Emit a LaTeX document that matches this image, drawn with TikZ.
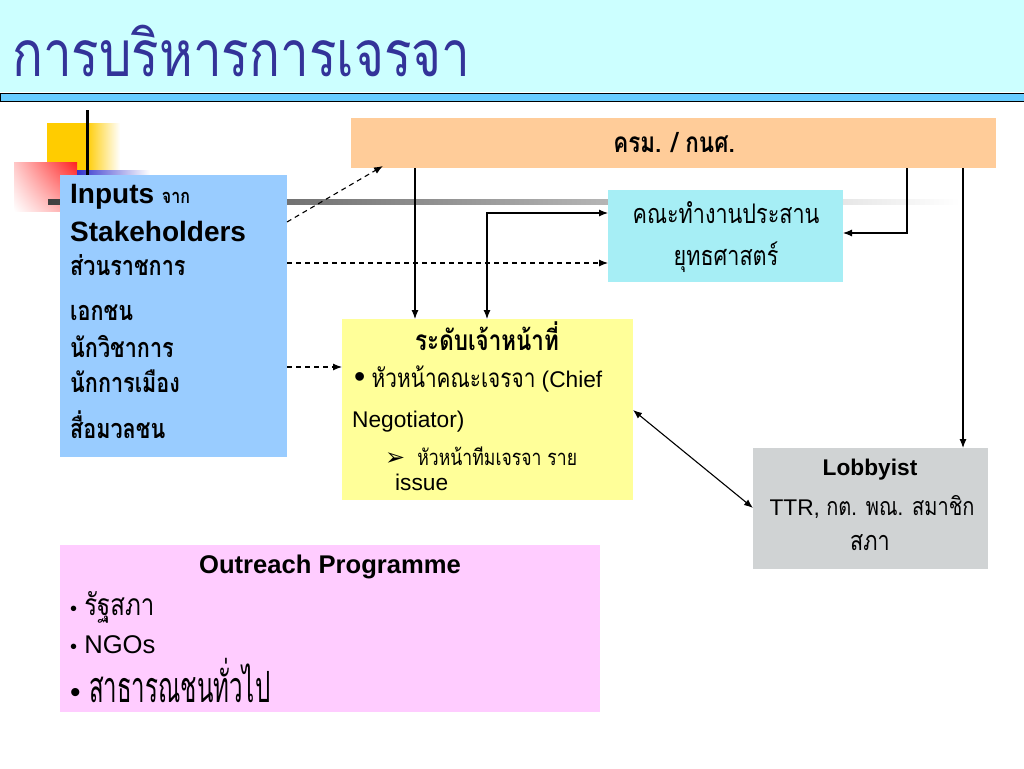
\documentclass[tikz,border=0pt]{standalone}
\usepackage{fontspec}
\setmainfont{Liberation Sans}
\newfontfamily\thaifont[Script=Thai,FakeStretch=0.8]{Loma}
\newfontfamily\thainarrow[Script=Thai,FakeStretch=0.56]{Loma}
\newfontfamily\symfont{DejaVu Sans}
\usetikzlibrary{arrows.meta,calc,shadings}

\definecolor{bandcyan}{HTML}{CCFFFF}
\definecolor{barblue}{HTML}{66CCFF}
\definecolor{titleblue}{HTML}{333399}
\definecolor{decoyellow}{HTML}{FFCC00}
\definecolor{decored}{HTML}{FF2020}
\definecolor{decoblue}{HTML}{3333CC}
\definecolor{krmorange}{HTML}{FFCC99}
\definecolor{stratcyan}{HTML}{A6EEF5}
\definecolor{inputblue}{HTML}{99CCFF}
\definecolor{officeyellow}{HTML}{FFFF99}
\definecolor{lobbygray}{HTML}{D0D3D4}
\definecolor{outreachpink}{HTML}{FFCCFF}

\newcommand{\fs}[1]{\fontsize{#1}{#1}\selectfont}
\newcommand{\thaitxt}[2]{{\thaifont\fs{#1}#2}}

\begin{document}
\begin{tikzpicture}[x=1pt,y=-1pt,
    box/.style={anchor=north west,inner sep=0pt,outer sep=0pt},
    txt/.style={anchor=base west,inner sep=0pt},
    mid/.style={anchor=base,inner sep=0pt},
    link/.style={-{Latex[length=9pt,width=7pt]},line width=1.1pt},
    dlink/.style={link,dash pattern=on 5pt off 4pt},
    twoway/.style={{Latex[length=9pt,width=7pt]}-{Latex[length=9pt,width=7pt]},line width=1.1pt}]
\useasboundingbox (0,0) rectangle (1024,768);
\fill[white] (0,0) rectangle (1024,768);
% title band
\fill[bandcyan] (0,0) rectangle (1024,92);
\draw[fill=barblue,line width=1pt] (0,93) rectangle (1024,101);
\node[txt,font=\thaifont\fs{64},text=titleblue] (title) at (12,77) {การบริหารการเจรจา};
% template corner
\fill[decoyellow] (47,123) rectangle (86,176);
\shade[left color=decoyellow,right color=white] (86,123) rectangle (120,176);
\shade[upper right=decored,upper left=decored!25,lower right=decored!45,lower left=white] (14,162) rectangle (77,211);
\shade[left color=decoblue,right color=white] (77,170) rectangle (150,176);
\draw[line width=3pt] (87,110) -- (87,176);
\shade[left color=black!75,right color=white] (48,199) rectangle (960,204);

% boxes
\node[box,fill=krmorange,minimum width=645pt,minimum height=50pt] (krm) at (351,118) {};
\node[box,fill=stratcyan,minimum width=235pt,minimum height=92pt] (strat) at (608,190) {};
\node[box,fill=inputblue,minimum width=227pt,minimum height=282pt] (inputs) at (60,175) {};
\node[box,fill=officeyellow,minimum width=291pt,minimum height=181pt] (office) at (342,319) {};
\node[box,fill=lobbygray,minimum width=235pt,minimum height=121pt] (lobby) at (753,448) {};
\node[box,fill=outreachpink,minimum width=540pt,minimum height=167pt] (outreach) at (60,545) {};

% texts
\node[mid,font=\thaifont\bfseries\fs{28}] (krmlabel) at (674,152) {ครม. / กนศ.};
\node[mid,font=\thaifont\fs{27}] (strat1) at (726,223) {คณะทำงานประสาน};
\node[mid,font=\thaifont\fs{27}] (strat2) at (726,265) {ยุทธศาสตร์};

\node[txt,font=\bfseries\fs{28}] (inp1) at (70,203) {Inputs \thaitxt{20}{จาก}};
\node[txt,font=\bfseries\fs{28}] (inp2) at (70,241) {Stakeholders};
\node[txt,font=\thaifont\bfseries\fs{27}] (inp3) at (70,275) {ส่วนราชการ};
\node[txt,font=\thaifont\bfseries\fs{27}] (inp4) at (70,320) {เอกชน};
\node[txt,font=\thaifont\bfseries\fs{27}] (inp5) at (70,357) {นักวิชาการ};
\node[txt,font=\thaifont\bfseries\fs{27}] (inp6) at (70,392) {นักการเมือง};
\node[txt,font=\thaifont\bfseries\fs{27}] (inp7) at (70,438) {สื่อมวลชน};

\node[mid,font=\thaifont\bfseries\fs{28}] (off1) at (487,350) {ระดับเจ้าหน้าที่};
\node[txt,font=\fs{22.7}] (off2) at (354,387) {\fs{32}•\fs{22.7} \thaitxt{26}{หัวหน้าคณะเจรจา} (Chief};
\node[txt,font=\fs{22.7}] (off3) at (352,427) {Negotiator)};
\node[txt,font=\fs{22.7}] (off4) at (385,465) {{\symfont\fs{24}➢}\hspace{12pt}\thaitxt{22}{หัวหน้าทีมเจรจา ราย}};
\node[txt,font=\fs{22.7}] (off5) at (395,490) {issue};

\node[mid,font=\bfseries\fs{22.7}] (lob1) at (870,475) {Lobbyist};
\node[mid,font=\fs{22.7}] (lob2) at (872,515) {TTR, \thaitxt{25}{กต. พณ. สมาชิก}};
\node[mid,font=\thaifont\fs{27}] (lob3) at (870,550) {สภา};

\node[mid,font=\bfseries\fs{25.6}] (out1) at (330,573) {Outreach Programme};
\node[txt,font=\fs{25.6}] (out2) at (70,615) {\fs{20}•\fs{25.6} \thaitxt{30}{รัฐสภา}};
\node[txt,font=\fs{25.6}] (out3) at (70,653) {\fs{20}•\fs{25.6} NGOs};
\node[txt,font=\fs{25.6}] (out4) at (70,702) {\fs{30}• {\thainarrow\fs{43}สาธารณชนทั่วไป}};

% connectors
\draw[dlink] ($(inputs.north east)+(0,47)$) -- ($(krm.south west)+(32,-2)$);
\draw[dlink] ($(inputs.north east)+(0,88)$) -- ($(strat.north west)+(0,73)$);
\draw[dlink] ($(inputs.north east)+(0,192)$) -- ($(office.north west)+(0,48)$);
\draw[link] ($(krm.south west)+(64,0)$) -- ($(office.north west)+(73,0)$);
\draw[twoway] ($(office.north west)+(145,0)$) |- ($(strat.north west)+(0,23)$);
\draw[link] ($(krm.south west)+(556,0)$) |- ($(strat.north east)+(0,43)$);
\draw[link] ($(krm.south west)+(612,0)$) -- ($(lobby.north west)+(210,0)$);
\draw[twoway] ($(office.north east)+(0,91)$) -- ($(lobby.north west)+(0,60)$);
\end{tikzpicture}
\end{document}
